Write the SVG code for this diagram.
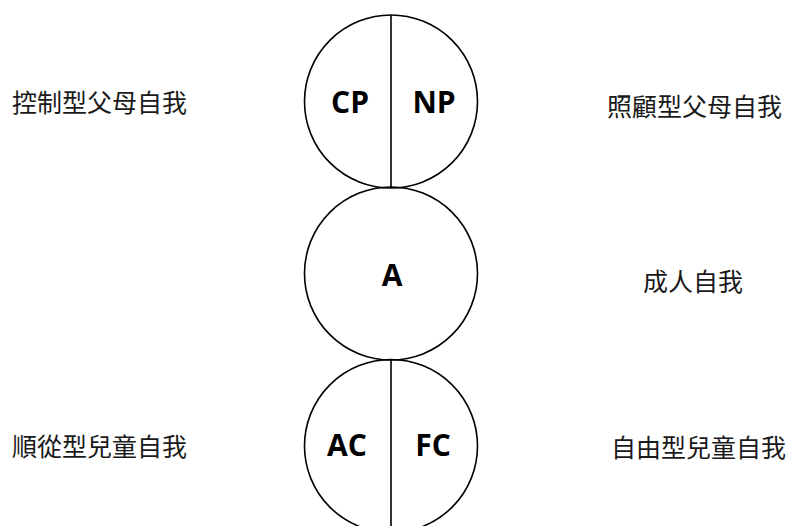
<svg xmlns="http://www.w3.org/2000/svg" width="789" height="526" viewBox="0 0 789 526">
<style>
.c{fill:none;stroke:#000;stroke-width:1.6}
.l{stroke:#000;stroke-width:1.6}
.t{font-family:"Open Sans","Liberation Sans",sans-serif;font-weight:bold;font-size:30px;fill:#000;text-anchor:middle}
.z{font-family:"Noto Sans CJK TC","Noto Sans CJK SC",sans-serif;font-size:25px;fill:#1a1a1a}
</style>
<rect width="789" height="526" fill="#fff"/>
<g id="parent">
<circle class="c" cx="391" cy="101.5" r="86.5"/>
<text class="t" x="350" y="113">CP</text>
<text class="t" x="434" y="113">NP</text>
</g>
<g id="adult">
<circle class="c" cx="391" cy="273.5" r="86.5"/>
<text class="t" x="392" y="286">A</text>
</g>
<g id="child">
<circle class="c" cx="391" cy="446" r="86.5"/>
<text class="t" x="347" y="456">AC</text>
<text class="t" x="433" y="456">FC</text>
</g>
<g id="connectors">
<line class="l" x1="391" y1="15" x2="391" y2="188"/>
<line class="l" x1="391" y1="359.5" x2="391" y2="532"/>
</g>
<g id="labels">
<text class="z" x="12" y="112">控制型父母自我</text>
<text class="z" x="607" y="116">照顧型父母自我</text>
<text class="z" x="643" y="291">成人自我</text>
<text class="z" x="12" y="456">順從型兒童自我</text>
<text class="z" x="611" y="457">自由型兒童自我</text>
</g>
</svg>
